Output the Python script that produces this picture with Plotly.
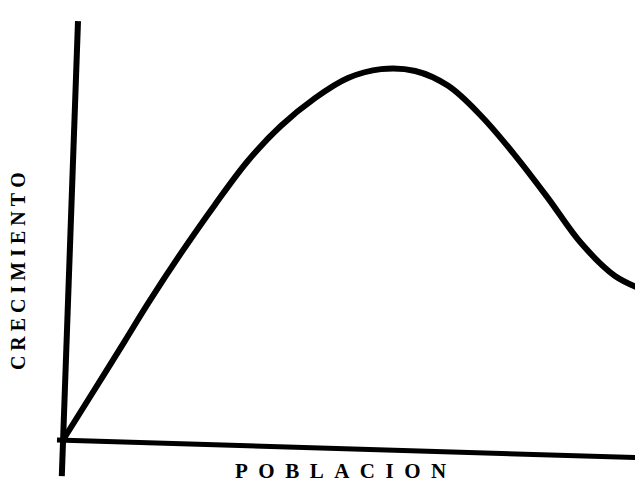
import plotly.graph_objects as go

# curve (population vs growth, arbitrary units)
poblacion = [0, 0.47, 1.03, 1.42, 1.97, 2.53, 3.08, 3.63, 4.20, 4.75,
             5.30, 5.87, 6.42, 6.97, 7.53, 8.08, 8.63, 9.20, 9.80, 10.08]
crecimiento = [0, 1.21, 2.66, 3.68, 5.03, 6.32, 7.50, 8.44, 9.19, 9.73,
               9.97, 9.92, 9.52, 8.71, 7.66, 6.51, 5.30, 4.41, 3.95, 3.79]

# hand-drawn axes (slightly skewed in the scan)
eje_y_x = [-0.02, 0.25]
eje_y_y = [-0.97, 11.26]
eje_x_x = [-0.1, 10.1]
eje_x_y = [0, -0.5]

x_label = "POBLACION"
y_label = "CRECIMIENTO"

fig = go.Figure()

fig.add_trace(go.Scatter(x=eje_y_x, y=eje_y_y, mode="lines",
                         line=dict(color="black", width=6), hoverinfo="skip"))
fig.add_trace(go.Scatter(x=eje_x_x, y=eje_x_y, mode="lines",
                         line=dict(color="black", width=5), hoverinfo="skip"))
fig.add_trace(go.Scatter(x=poblacion, y=crecimiento, mode="lines",
                         line=dict(color="black", width=6, shape="spline"),
                         hoverinfo="skip"))

fig.add_annotation(x=4.62, y=-0.83,
                   text="<b>" + "\u00a0\u00a0".join(x_label) + "</b>",
                   showarrow=False,
                   font=dict(family="Liberation Serif", size=21, color="black"))
fig.add_annotation(x=-0.75, y=4.54,
                   text="<b>" + "\u00a0".join(y_label) + "</b>",
                   textangle=-90, showarrow=False,
                   font=dict(family="Liberation Serif", size=20, color="black"))

fig.update_layout(
    width=643,
    height=483,
    margin=dict(l=0, r=0, t=0, b=0),
    plot_bgcolor="white",
    paper_bgcolor="white",
    showlegend=False,
    xaxis=dict(range=[-55 / 60, 588 / 60], visible=False),
    yaxis=dict(range=[-51 / 37.2, 432 / 37.2], visible=False),
)

fig.write_html("out.html")
